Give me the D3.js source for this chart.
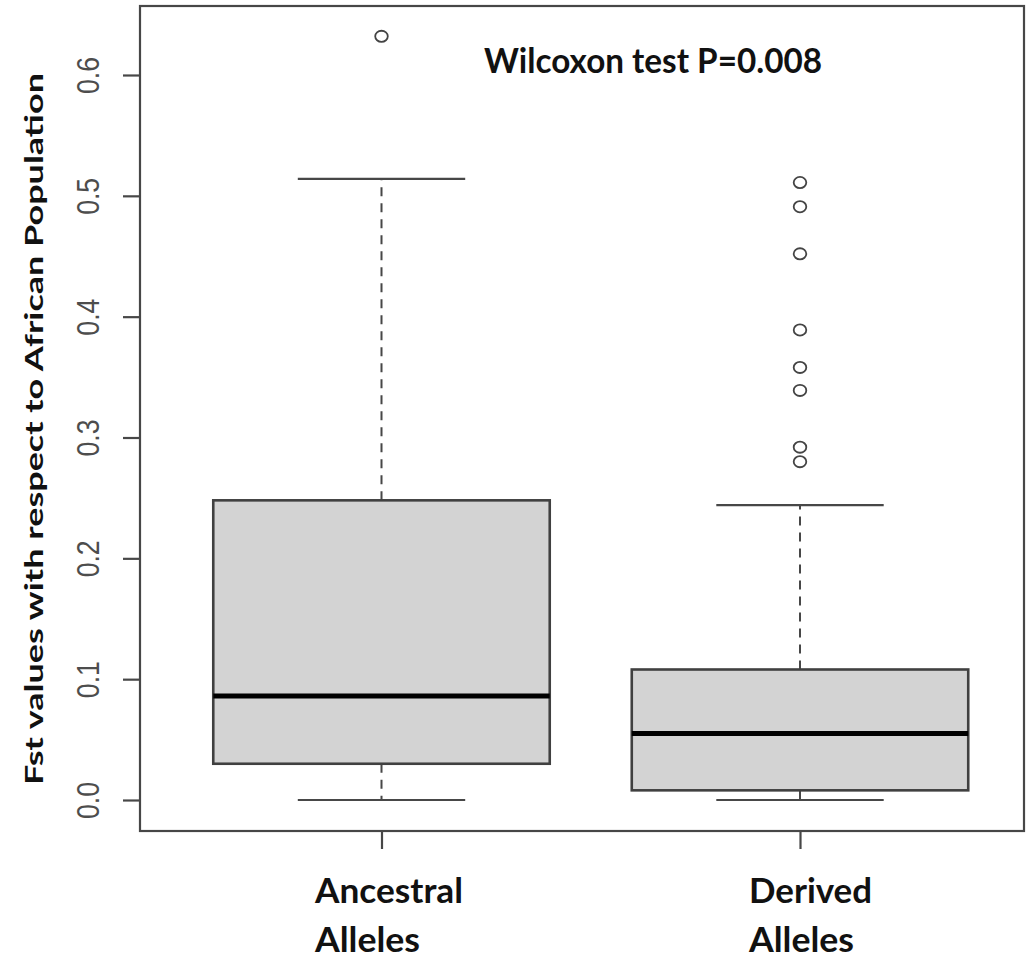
<!DOCTYPE html>
<html>
<head>
<meta charset="utf-8">
<script src="https://cdn.jsdelivr.net/npm/d3@7"></script>
<style>
  html, body { margin: 0; padding: 0; background: #fff; }
  svg { display: block; }
</style>
</head>
<body>
<svg id="chart" width="1027" height="960"></svg>
<script>
// Box summary statistics per group (Fst values)
const categories = ["Ancestral", "Derived"];
const categoryLines = [["Ancestral", "Alleles"], ["Derived", "Alleles"]];
const lowerWhisker = [0.000, 0.000];
const q1 = [0.030, 0.008];
const median = [0.086, 0.055];
const q3 = [0.248, 0.108];
const upperWhisker = [0.514, 0.244];
const ancestralOutliers = [0.632];
const derivedOutliers = [0.511, 0.491, 0.452, 0.389, 0.358, 0.339, 0.292, 0.280];
const yTicks = [0.0, 0.1, 0.2, 0.3, 0.4, 0.5, 0.6];
const yTickLabels = ["0.0", "0.1", "0.2", "0.3", "0.4", "0.5", "0.6"];
const yTitle = "Fst values with respect to African Population";
const annotation = "Wilcoxon test P=0.008";

const outliers = [ancestralOutliers, derivedOutliers];

const svg = d3.select("#chart");
const frame = { left: 140, right: 1024, top: 6, bottom: 831 };
const lineCol = "#474747";
const boldFont = "Lato, 'Open Sans', sans-serif";

const x = d3.scaleLinear().domain([1, 2]).range([381.5, 800]);
const y = d3.scaleLinear().domain([0, 0.6]).range([800, 75]);
const boxHalf = 0.402, capHalf = 0.2;

// Boxes
categories.forEach((c, i) => {
  const pos = i + 1;
  const g = svg.append("g");
  // whiskers (dashed)
  g.append("line")
    .attr("x1", x(pos)).attr("x2", x(pos))
    .attr("y1", y(q3[i])).attr("y2", y(upperWhisker[i]))
    .attr("stroke", lineCol).attr("stroke-width", 2)
    .attr("stroke-dasharray", "9,7");
  g.append("line")
    .attr("x1", x(pos)).attr("x2", x(pos))
    .attr("y1", y(q1[i])).attr("y2", y(lowerWhisker[i]))
    .attr("stroke", lineCol).attr("stroke-width", 2)
    .attr("stroke-dasharray", "9,7");
  // whisker caps
  [upperWhisker[i], lowerWhisker[i]].forEach(v => {
    g.append("line")
      .attr("x1", x(pos - capHalf)).attr("x2", x(pos + capHalf))
      .attr("y1", y(v)).attr("y2", y(v))
      .attr("stroke", lineCol).attr("stroke-width", 2.2);
  });
  // box
  g.append("rect")
    .attr("x", x(pos - boxHalf))
    .attr("y", y(q3[i]))
    .attr("width", x(pos + boxHalf) - x(pos - boxHalf))
    .attr("height", y(q1[i]) - y(q3[i]))
    .attr("fill", "#d3d3d3")
    .attr("stroke", "#404040").attr("stroke-width", 2.6);
  // median
  g.append("line")
    .attr("x1", x(pos - boxHalf)).attr("x2", x(pos + boxHalf))
    .attr("y1", y(median[i])).attr("y2", y(median[i]))
    .attr("stroke", "#000").attr("stroke-width", 5);
  // outliers
  g.selectAll("ellipse").data(outliers[i]).join("ellipse")
    .attr("cx", x(pos)).attr("cy", d => y(d))
    .attr("rx", 6.3).attr("ry", 5.6)
    .attr("fill", "none").attr("stroke", "#444").attr("stroke-width", 1.8);
});

// Frame
svg.append("rect")
  .attr("x", frame.left).attr("y", frame.top)
  .attr("width", frame.right - frame.left)
  .attr("height", frame.bottom - frame.top)
  .attr("fill", "none").attr("stroke", lineCol).attr("stroke-width", 2.2);

// Y axis
const yAxis = svg.append("g")
  .attr("transform", `translate(${frame.left},0)`)
  .call(d3.axisLeft(y).tickValues(yTicks).tickSize(17).tickFormat((d, i) => yTickLabels[i]));
yAxis.select(".domain").remove();
yAxis.selectAll(".tick line").attr("stroke", lineCol).attr("stroke-width", 2.2);
yAxis.selectAll(".tick text")
  .attr("x", null).attr("dy", null)
  .attr("text-anchor", "middle")
  .attr("transform", "translate(-41,0) rotate(-90)")
  .attr("font-family", "'Liberation Sans', Arial, sans-serif")
  .attr("font-size", 31)
  .attr("fill", "#4d4d4d")
  .attr("textLength", 37)
  .attr("lengthAdjust", "spacingAndGlyphs");

// X axis
const xAxis = svg.append("g")
  .attr("transform", `translate(0,${frame.bottom})`)
  .call(d3.axisBottom(x).tickValues([1, 2]).tickSize(18).tickFormat(""));
xAxis.select(".domain").remove();
xAxis.selectAll(".tick line").attr("stroke", lineCol).attr("stroke-width", 2.2);

// Category labels (two lines, left aligned)
const labelLeft = [315, 749];
const lineWidths = [[148, 105], [123, 105]];
categoryLines.forEach((lines, i) => {
  lines.forEach((t, j) => {
    svg.append("text")
      .attr("x", labelLeft[i]).attr("y", 903 + j * 49)
      .attr("font-family", boldFont).attr("font-weight", 700)
      .attr("font-size", 34.5).attr("fill", "#111")
      .attr("textLength", lineWidths[i][j])
      .attr("lengthAdjust", "spacingAndGlyphs")
      .text(t);
  });
});

// Y title
svg.append("text")
  .attr("transform", "translate(43,429) rotate(-90)")
  .attr("text-anchor", "middle")
  .attr("font-family", boldFont).attr("font-weight", 700)
  .attr("font-size", 25).attr("fill", "#111")
  .attr("textLength", 712)
  .attr("lengthAdjust", "spacingAndGlyphs")
  .text(yTitle);

// Annotation
svg.append("text")
  .attr("x", 484).attr("y", 73)
  .attr("font-family", boldFont).attr("font-weight", 700)
  .attr("font-size", 34.5).attr("fill", "#111")
  .attr("textLength", 338)
  .attr("lengthAdjust", "spacingAndGlyphs")
  .text(annotation);
</script>
</body>
</html>
